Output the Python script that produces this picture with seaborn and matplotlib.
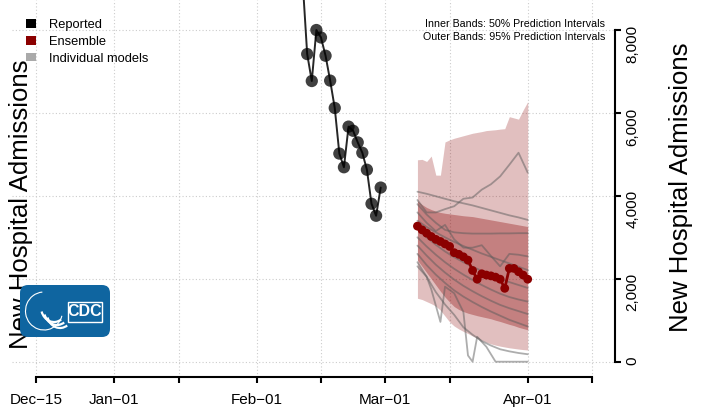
import matplotlib.pyplot as plt
import matplotlib.dates as mdates
import pandas as pd
import seaborn as sns
from matplotlib.patches import Patch, FancyBboxPatch, Rectangle, Arc

sns.set_style("white")
plt.rcParams["font.family"] = ["Liberation Sans", "DejaVu Sans"]
plt.rcParams["text.color"] = "black"
plt.rcParams["xtick.color"] = "black"
plt.rcParams["ytick.color"] = "black"

# reported daily admissions (Feb 11 - Feb 28)
reported_dates = pd.date_range("2022-02-11", "2022-02-28", freq="D")
reported = [9200, 7420, 6770, 8000, 7820, 7380, 6780, 6120, 5020, 4690,
            5670, 5570, 5290, 5040, 4630, 3810, 3520, 4200]

# ensemble forecast (Mar 08 - Apr 01)
forecast_dates = pd.date_range("2022-03-08", "2022-04-01", freq="D")
ensemble = [3270, 3180, 3100, 3020, 2950, 2900, 2840, 2780, 2630, 2590,
            2530, 2450, 2200, 1990, 2120, 2090, 2070, 2040, 1990, 1770,
            2250, 2250, 2170, 2090, 1990]
outer_upper = [4870, 4880, 4830, 4960, 4500, 4500, 5300, 5350, 5390, 5420,
               5450, 5480, 5510, 5530, 5550, 5575, 5585, 5595, 5610, 5620,
               5910, 5880, 5850, 6070, 6270]
outer_lower = [1530, 1500, 1450, 1400, 1340, 1240, 1100, 960, 860, 790,
               730, 680, 620, 570, 520, 470, 430, 400, 375, 355,
               335, 320, 305, 292, 282]
inner_upper = [3880, 3790, 3720, 3670, 3630, 3600, 3580, 3565, 3550, 3535,
               3520, 3510, 3500, 3480, 3460, 3440, 3420, 3400, 3380, 3360,
               3340, 3320, 3300, 3280, 3260]
inner_lower = [2450, 2300, 2150, 2000, 1850, 1700, 1560, 1440, 1330, 1260,
               1210, 1170, 1140, 1110, 1085, 1060, 1035, 1000, 970, 935,
               900, 870, 830, 800, 770]

# individual models, days after Mar 01
model_days = [7, 9, 11, 13, 15, 17, 19, 21, 23, 25, 27, 29, 31]
model_c = [4100, 4050, 3990, 3930, 3870, 3820, 3770, 3710, 3650, 3590, 3530, 3480, 3420]
model_r = [3900, 3600, 3600, 3680, 3750, 3930, 3960, 4150, 4280, 4470, 4750, 5040, 4560]
model_d = [3800, 3550, 3350, 3180, 3120, 3100, 3090, 3090, 3090, 3095, 3095, 3100, 3100]
model_e = [3600, 3350, 3150, 3300, 2950, 2750, 2750, 2810, 2550, 2300, 2600, 2580, 2540]
model_f = [3400, 3250, 3120, 3000, 2890, 2790, 2700, 2610, 2530, 2450, 2370, 2290, 2210]
model_g = [3200, 3000, 2820, 2660, 2520, 2400, 2290, 2190, 2090, 2000, 1920, 1850, 1780]
model_h = [3000, 2780, 2580, 2400, 2240, 2100, 1970, 1850, 1740, 1640, 1560, 1500, 1450]
model_i = [2800, 2560, 2340, 2150, 1980, 1830, 1700, 1580, 1470, 1370, 1290, 1220, 1150]
model_j = [2600, 2330, 2100, 1900, 1720, 1570, 1440, 1320, 1210, 1110, 1010, 930, 850]
model_b = [2400, 2050, 1680, 1380, 1130, 830, 650, 500, 390, 300, 250, 210, 180]
# the jagged model reported on its own days
model_a_days = [7, 9, 10, 12, 13, 15, 17, 18, 19, 20, 22, 24, 31]
model_a = [2300, 2050, 1750, 960, 1810, 1650, 1200, 150, 0, 600, 360, 0, 0]

tick_dates = ["2021-12-15", "2022-01-01", "2022-01-15", "2022-02-01", "2022-02-15",
              "2022-03-01", "2022-03-15", "2022-04-01", "2022-04-15"]
tick_labels = ["Dec\u221215", "Jan\u221201", "", "Feb\u221201", "",
               "Mar\u221201", "", "Apr\u221201", ""]
y_ticks = [0, 2000, 4000, 6000, 8000]
y_labels = ["0", "2,000", "4,000", "6,000", "8,000"]

# long table of model trajectories
mar01 = pd.Timestamp("2022-03-01")
rows = []
for name, vals in [("c", model_c), ("r", model_r), ("d", model_d), ("e", model_e),
                   ("f", model_f), ("g", model_g), ("h", model_h), ("i", model_i),
                   ("j", model_j), ("b", model_b)]:
    for d, v in zip(model_days, vals):
        rows.append({"model": name, "date": mar01 + pd.Timedelta(days=d), "value": v})
for d, v in zip(model_a_days, model_a):
    rows.append({"model": "a", "date": mar01 + pd.Timedelta(days=d), "value": v})
models_df = pd.DataFrame(rows)

W, H = 703, 411
fig = plt.figure(figsize=(W / 100, H / 100), dpi=100)
ax = fig.add_axes([12 / W, 1 - 377 / H, (615 - 12) / W, 377 / H])

red = "#8B0000"

# prediction bands
ax.fill_between(forecast_dates, outer_lower, outer_upper, color=red, alpha=0.25, lw=0, zorder=1)
ax.fill_between(forecast_dates, inner_lower, inner_upper, color=red, alpha=0.33, lw=0, zorder=1.5)

# individual models
sns.lineplot(data=models_df, x="date", y="value", units="model", estimator=None,
             color="#5c5c5c", alpha=0.5, lw=1.3, ax=ax, zorder=2)

# ensemble
sns.lineplot(x=forecast_dates, y=ensemble, color=red, lw=2, ax=ax, zorder=3)
sns.scatterplot(x=forecast_dates, y=ensemble, color=red, s=40, edgecolor="none", ax=ax, zorder=3.5)

# reported
sns.scatterplot(x=reported_dates, y=reported, color="black", alpha=0.75, s=78,
                edgecolor="none", ax=ax, zorder=4)
sns.lineplot(x=reported_dates, y=reported, color="black", lw=1.4, alpha=0.85, ax=ax, zorder=4.5)

# axes
tick_nums = mdates.date2num(pd.to_datetime(tick_dates).to_pydatetime())
ax.set_xlim(mdates.date2num(pd.Timestamp("2021-12-09 18:00")),
            mdates.date2num(pd.Timestamp("2022-04-20")))
ax.set_ylim(-369, 8724)
ax.set_xticks(tick_nums)
ax.set_xticklabels(tick_labels)
ax.yaxis.tick_right()
ax.set_yticks(y_ticks)
ax.set_yticklabels(y_labels)
ax.set_xlabel("")
ax.set_ylabel("")

ax.grid(True, color="#cccccc", linestyle=(0, (1, 2)), lw=0.8)
ax.set_axisbelow(True)

for s in ["top", "left"]:
    ax.spines[s].set_visible(False)
for s in ["bottom", "right"]:
    ax.spines[s].set_color("black")
    ax.spines[s].set_linewidth(1.5)
ax.spines["bottom"].set_bounds(tick_nums[0], tick_nums[-1])
ax.spines["right"].set_bounds(0, 8000)

ax.tick_params(axis="x", direction="out", length=4.5, width=1.5, color="black",
               labelcolor="black", labelsize=11, pad=7, bottom=True)
ax.tick_params(axis="y", direction="out", length=4.5, width=1.5, color="black",
               labelcolor="black", labelsize=11, pad=3, labelrotation=90,
               right=True, left=False)

# axis titles
fig.text(688 / W, 1 - 187.5 / H, "New Hospital Admissions", rotation=90,
         rotation_mode="anchor", ha="center", va="baseline", fontsize=18.5)
fig.text(28 / W, 1 - 204 / H, "New Hospital Admissions", rotation=90,
         rotation_mode="anchor", ha="center", va="baseline", fontsize=18.5)

# band note
fig.text(605 / W, 1 - 24 / H, "Inner Bands: 50% Prediction Intervals",
         ha="right", va="center", fontsize=7.7)
fig.text(605 / W, 1 - 37.5 / H, "Outer Bands: 95% Prediction Intervals",
         ha="right", va="center", fontsize=7.7)

# legend
handles = [Patch(facecolor="black", edgecolor="none", label="Reported"),
           Patch(facecolor=red, edgecolor="none", label="Ensemble"),
           Patch(facecolor="#AAAAAA", edgecolor="none", label="Individual models")]
fig.legend(handles=handles, loc="upper left", bbox_to_anchor=(26 / W, 1 - 19 / H),
           frameon=False, fontsize=9.3, handlelength=0.78, handleheight=0.62,
           handletextpad=1.0, labelspacing=0.38, borderpad=0, borderaxespad=0)

# CDC badge
lax = fig.add_axes([20 / W, 1 - 337 / H, 90 / W, 52 / H])
lax.set_zorder(6)
lax.set_xlim(0, 90)
lax.set_ylim(0, 52)
lax.axis("off")
lax.add_patch(FancyBboxPatch((0, 0), 90, 52, boxstyle="round,pad=0,rounding_size=8",
                             fc="#0f65a0", ec="none"))
lax.add_patch(Arc((24, 26), 37, 38, theta1=95, theta2=345, color="white", lw=0.8))
for k in range(3):
    lax.add_patch(Arc((34 + 3 * k, 30 - 3 * k), 26, 30, theta1=200, theta2=300,
                      color="white", lw=1.6))
lax.add_patch(Rectangle((48, 15), 34, 20, fill=False, ec="white", lw=1))
lax.text(65, 25, "CDC", color="white", fontsize=11.5, fontweight="bold",
         ha="center", va="center")

fig.savefig("out.png", dpi=100)
